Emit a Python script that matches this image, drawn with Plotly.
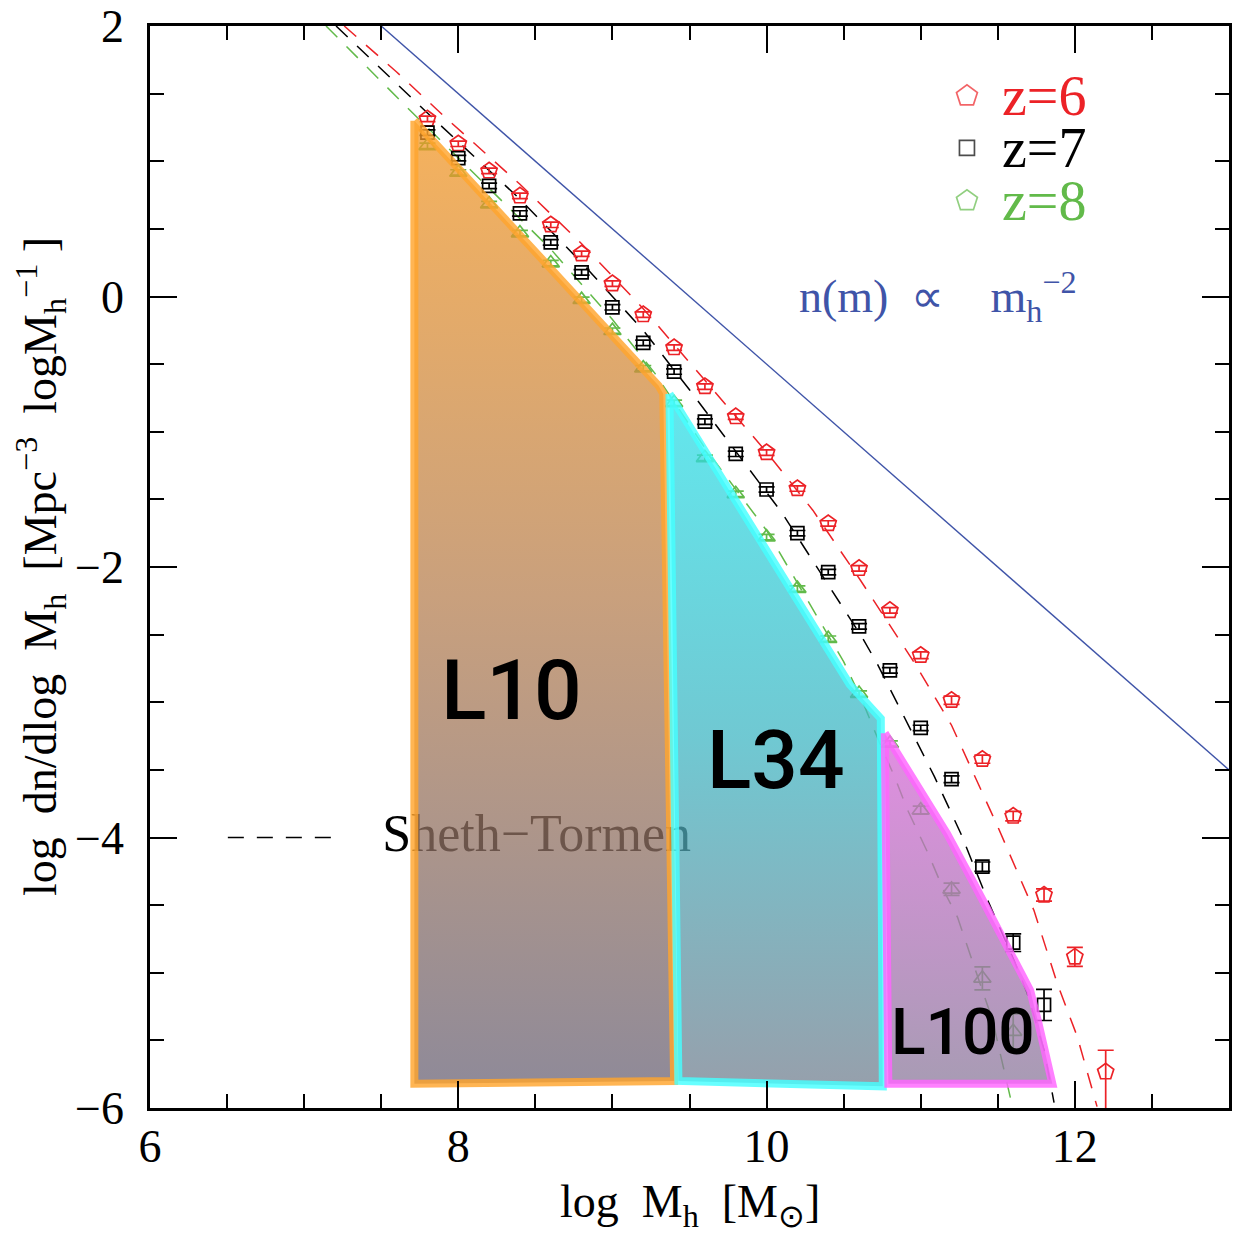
import plotly.graph_objects as go

# ---- simulated halo mass functions (log dn/dlogM) with Poisson errors ----
logm_z6 = [7.8, 8.0, 8.2, 8.4, 8.6, 8.8, 9.0, 9.2, 9.4, 9.6, 9.8, 10.0,
           10.2, 10.4, 10.6, 10.8, 11.0, 11.2, 11.4, 11.6, 11.8, 12.0, 12.2]
phi_z6 = [1.313, 1.129, 0.929, 0.744, 0.530, 0.316, 0.095, -0.134, -0.378,
          -0.666, -0.888, -1.154, -1.420, -1.678, -2.010, -2.321, -2.653,
          -2.985, -3.421, -3.842, -4.425, -4.883, -5.733]
err_hi_z6 = [0.02, 0.02, 0.02, 0.02, 0.02, 0.02, 0.02, 0.02, 0.02, 0.02, 0.02,
             0.02, 0.02, 0.02, 0.02, 0.02, 0.025, 0.03, 0.03, 0.035, 0.045,
             0.07, 0.16]
err_lo_z6 = [0.02, 0.02, 0.02, 0.02, 0.02, 0.02, 0.02, 0.02, 0.02, 0.02, 0.02,
             0.02, 0.02, 0.02, 0.02, 0.02, 0.025, 0.03, 0.03, 0.035, 0.045,
             0.07, 0.30]

logm_z7 = [7.8, 8.0, 8.2, 8.4, 8.6, 8.8, 9.0, 9.2, 9.4, 9.6, 9.8, 10.0,
           10.2, 10.4, 10.6, 10.8, 11.0, 11.2, 11.4, 11.6, 11.8]
phi_z7 = [1.212, 1.023, 0.818, 0.614, 0.400, 0.178, -0.080, -0.343, -0.555,
          -0.925, -1.163, -1.427, -1.750, -2.038, -2.439, -2.764, -3.190,
          -3.569, -4.216, -4.778, -5.238]
err_z7 = [0.02, 0.02, 0.02, 0.02, 0.02, 0.02, 0.02, 0.02, 0.02, 0.02, 0.02,
          0.02, 0.02, 0.02, 0.02, 0.02, 0.02, 0.025, 0.035, 0.065, 0.115]

logm_z8 = [7.8, 8.0, 8.2, 8.4, 8.6, 8.8, 9.0, 9.2, 9.4, 9.6, 9.8, 10.0,
           10.2, 10.4, 10.6, 10.8, 11.0, 11.2, 11.4, 11.6]
phi_z8 = [1.114, 0.917, 0.683, 0.469, 0.247, -0.024, -0.253, -0.530, -0.786,
          -1.193, -1.459, -1.779, -2.160, -2.530, -2.936, -3.305, -3.798,
          -4.383, -5.041, -5.435]
err_z8 = [0.02, 0.02, 0.02, 0.02, 0.02, 0.02, 0.02, 0.02, 0.02, 0.02, 0.02,
          0.02, 0.02, 0.02, 0.02, 0.02, 0.03, 0.045, 0.085, 0.13]

# ---- Sheth-Tormen predictions ----
st_logm_z6 = [7.26, 7.6, 7.92, 8.4, 8.8, 9.2, 9.6, 10.0, 10.3, 10.61, 10.96,
              11.2, 11.5, 11.735, 11.886, 12.015, 12.144]
st_phi_z6 = [2.00, 1.66, 1.32, 0.83, 0.39, -0.09, -0.62, -1.15, -1.58, -2.10,
             -2.71, -3.17, -3.92, -4.54, -5.08, -5.47, -5.99]
st_logm_z7 = [7.207, 7.843, 8.4, 8.8, 9.2, 9.5, 10.1, 10.42, 10.625, 10.72,
              10.916, 11.089, 11.26, 11.433, 11.606, 11.69, 11.8, 11.865]
st_phi_z7 = [2.00, 1.31, 0.72, 0.25, -0.25, -0.69, -1.60, -2.17, -2.53, -2.72,
             -3.16, -3.55, -3.97, -4.46, -4.91, -5.15, -5.57, -5.96]
st_logm_z8 = [7.142, 7.693, 8.2, 8.6, 9.0, 9.277, 9.6, 10.0, 10.5, 10.625,
              10.733, 10.83, 10.916, 11.045, 11.153, 11.239, 11.325, 11.466,
              11.595]
st_phi_z8 = [2.00, 1.37, 0.80, 0.35, -0.17, -0.57, -1.12, -1.73, -2.70, -3.00,
             -3.30, -3.55, -3.80, -4.11, -4.40, -4.59, -4.88, -5.35, -5.99]

# ---- power law n(m) ~ m^-2 ----
pl_logm = [7.5, 13.0]
pl_phi = [2.0, -3.5]

# ---- mass ranges covered by the three simulation boxes ----
box_names = ["L10", "L34", "L100"]
box_logm = [
    [7.715, 9.30, 9.33, 9.40, 7.715, 7.715],
    [9.37, 10.54, 10.741, 10.754, 9.428, 9.37],
    [10.767, 10.96, 11.17, 11.345, 11.515, 11.645, 11.71, 11.763, 11.854,
     10.79, 10.767],
]
box_phi = [
    [1.30, -0.66, -0.72, -5.80, -5.82, 1.30],
    [-0.72, -2.87, -3.12, -5.84, -5.80, -0.72],
    [-3.229, -3.58, -3.97, -4.34, -4.71, -4.98, -5.13, -5.37, -5.82, -5.82,
     -3.229],
]
box_label_x = [8.342, 10.062, 11.272]
box_label_y = [-2.911, -3.428, -5.445]
box_label_size = [84, 82, 64]

RED = "#EC2227"
BLACK = "#000000"
GREEN = "#62BA4A"
BLUE = "#3F54A8"
SERIF = "Liberation Serif"

fig = go.Figure()

fig.add_trace(go.Scatter(x=pl_logm, y=pl_phi, mode="lines",
                         line=dict(color=BLUE, width=1.4), showlegend=False))

for xs, ys, c in [(st_logm_z6, st_phi_z6, RED), (st_logm_z7, st_phi_z7, BLACK),
                  (st_logm_z8, st_phi_z8, GREEN)]:
    fig.add_trace(go.Scatter(x=xs, y=ys, mode="lines", showlegend=False,
                             line=dict(color=c, width=1.5, dash="16px,13px")))

series = [
    (logm_z6, phi_z6, err_hi_z6, err_lo_z6, RED, "pentagon-open", 17),
    (logm_z7, phi_z7, err_z7, err_z7, BLACK, "square-open", 13),
    (logm_z8, phi_z8, err_z8, err_z8, GREEN, "triangle-up-open", 15),
]
for xs, ys, ehi, elo, c, sym, sz in series:
    fig.add_trace(go.Scatter(
        x=xs, y=ys, mode="markers", showlegend=False,
        marker=dict(symbol=sym, size=sz, color=c, line=dict(color=c, width=1.7)),
        error_y=dict(type="data", array=ehi, arrayminus=elo, symmetric=False,
                     color=c, thickness=1.7, width=8)))

# Sheth-Tormen key text (drawn below the shaded boxes)
fig.add_trace(go.Scatter(x=[7.507], y=[-4.0], mode="text", text=["Sheth\u2212Tormen"],
                         textposition="middle right", showlegend=False,
                         textfont=dict(family=SERIF, size=52, color="black")))

box_styles = [
    dict(line="rgba(255,165,45,0.82)",
         scale=[[0.0, "rgba(106,99,118,0.75)"], [0.5, "rgba(182,128,82,0.75)"],
                [1.0, "rgba(243,152,38,0.75)"]]),
    dict(line="rgba(70,255,255,0.82)",
         scale=[[0.0, "rgba(115,128,144,0.75)"], [0.5, "rgba(64,182,195,0.75)"],
                [1.0, "rgba(46,224,232,0.75)"]]),
    dict(line="rgba(255,100,255,0.82)",
         scale=[[0.0, "rgba(139,122,155,0.75)"], [1.0, "rgba(216,104,216,0.75)"]]),
]
for xs, ys, st in zip(box_logm, box_phi, box_styles):
    fig.add_trace(go.Scatter(
        x=xs, y=ys, mode="lines", fill="toself", showlegend=False,
        line=dict(color=st["line"], width=8),
        fillgradient=dict(type="vertical", colorscale=st["scale"])))

# redshift key markers
fig.add_trace(go.Scatter(
    x=[11.30, 11.30, 11.30], y=[1.483, 1.099, 0.708], mode="markers",
    showlegend=False,
    marker=dict(symbol=["pentagon-open", "square-open", "pentagon-open"],
                size=[22, 15, 22], color=[RED, BLACK, GREEN],
                line=dict(color=[RED, BLACK, GREEN], width=1.7))))

annotations = []
for name, lx, ly, fs in zip(box_names, box_label_x, box_label_y, box_label_size):
    annotations.append(dict(x=lx, y=ly, xref="x", yref="y", text=name,
                            showarrow=False,
                            font=dict(family="Roboto", size=fs, color="black",
                                      weight=500)))
for lbl, ly, c in [("z=6", 1.483, RED), ("z=7", 1.099, BLACK), ("z=8", 0.708, GREEN)]:
    annotations.append(dict(x=11.517, y=ly, xref="x", yref="y", text=lbl,
                            xanchor="left", yanchor="middle", showarrow=False,
                            font=dict(family=SERIF, size=56, color=c)))
annotations.append(dict(
    x=10.2, y=0.0, xref="x", yref="y", xanchor="left", yanchor="middle",
    text="n(m)\u00a0\u00a0\u221d\u00a0\u00a0\u00a0\u00a0m<sub>h</sub><sup>\u22122</sup>",
    showarrow=False, font=dict(family=SERIF, size=46, color=BLUE)))
annotations.append(dict(
    x=0.5, y=0, xref="paper", yref="paper", yshift=-97, xanchor="center",
    yanchor="middle", showarrow=False,
    text="log\u00a0\u00a0M<sub>h</sub>\u00a0\u00a0[M<sub>\u2299</sub>]",
    font=dict(family=SERIF, size=46, color="black")))
annotations.append(dict(
    x=0, y=0.5, xref="paper", yref="paper", xshift=-110, textangle=-90,
    xanchor="center", yanchor="middle", showarrow=False,
    text=("log\u00a0\u00a0dn/dlog\u00a0\u00a0M<sub>h</sub>\u00a0\u00a0[Mpc<sup>\u22123</sup>"
          "\u00a0\u00a0logM<sub>h</sub><sup>\u22121</sup>\u00a0]"),
    font=dict(family=SERIF, size=46, color="black")))

shapes = [dict(type="line", xref="x", yref="y", x0=6.505, x1=7.21, y0=-4.0, y1=-4.0,
               line=dict(color="black", width=1.5, dash="16px,13px"))]

axis_common = dict(
    showgrid=False, zeroline=False, showline=True, linecolor="black",
    linewidth=2.5, mirror="allticks", ticks="inside", ticklen=27,
    tickwidth=1.5, tickcolor="black",
    tickfont=dict(family=SERIF, size=46, color="black"),
    minor=dict(ticks="inside", ticklen=14, tickwidth=1.5, tickcolor="black",
               dtick=0.5, showgrid=False),
)

fig.update_layout(
    width=1233, height=1234,
    margin=dict(l=150, r=1, t=25, b=126),
    paper_bgcolor="white", plot_bgcolor="white",
    showlegend=False,
    xaxis=dict(range=[6, 13], tick0=6, dtick=2, ticklabelstandoff=-4, **axis_common),
    yaxis=dict(range=[-6, 2], tick0=-6, dtick=2, ticklabelstandoff=14, **axis_common),
    annotations=annotations,
    shapes=shapes,
)

fig.write_html("out.html")
